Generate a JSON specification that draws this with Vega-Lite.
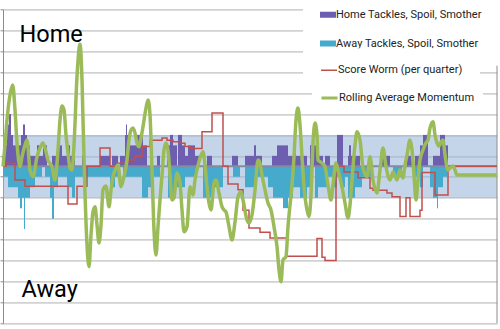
{
  "$schema": "https://vega.github.io/schema/vega-lite/v6.json",
  "width": 494,
  "height": 314,
  "autosize": {"type": "none"},
  "padding": {"left": 3, "top": 9.3, "right": 3, "bottom": 5.7},
  "background": "white",
  "config": {"view": {"stroke": null}, "font": "Roboto"},
  "datasets": {
    "band": [{"s": 0, "e": 494, "lo": -3, "hi": 3}],
    "bars": [
      {"series": "Home Tackles, Spoil, Smother", "s": 0, "e": 4, "v": 2},
      {"series": "Home Tackles, Spoil, Smother", "s": 4, "e": 6, "v": 4},
      {"series": "Home Tackles, Spoil, Smother", "s": 6, "e": 8, "v": 5},
      {"series": "Home Tackles, Spoil, Smother", "s": 8, "e": 10, "v": 3},
      {"series": "Home Tackles, Spoil, Smother", "s": 10, "e": 13, "v": 2},
      {"series": "Home Tackles, Spoil, Smother", "s": 13, "e": 15, "v": 3},
      {"series": "Home Tackles, Spoil, Smother", "s": 15, "e": 18, "v": 2},
      {"series": "Home Tackles, Spoil, Smother", "s": 18, "e": 20, "v": 3},
      {"series": "Home Tackles, Spoil, Smother", "s": 20, "e": 22, "v": 4},
      {"series": "Home Tackles, Spoil, Smother", "s": 22, "e": 24, "v": 3},
      {"series": "Home Tackles, Spoil, Smother", "s": 24, "e": 27, "v": 2},
      {"series": "Home Tackles, Spoil, Smother", "s": 27, "e": 34, "v": 1},
      {"series": "Home Tackles, Spoil, Smother", "s": 34, "e": 36, "v": 2},
      {"series": "Home Tackles, Spoil, Smother", "s": 36, "e": 40, "v": 1},
      {"series": "Home Tackles, Spoil, Smother", "s": 40, "e": 44, "v": 2},
      {"series": "Home Tackles, Spoil, Smother", "s": 49, "e": 55, "v": 1},
      {"series": "Home Tackles, Spoil, Smother", "s": 55, "e": 59, "v": 2},
      {"series": "Home Tackles, Spoil, Smother", "s": 59, "e": 64, "v": 1},
      {"series": "Home Tackles, Spoil, Smother", "s": 64, "e": 67, "v": 2},
      {"series": "Home Tackles, Spoil, Smother", "s": 67, "e": 72, "v": 1},
      {"series": "Home Tackles, Spoil, Smother", "s": 79, "e": 82, "v": 1},
      {"series": "Home Tackles, Spoil, Smother", "s": 97, "e": 107, "v": 1},
      {"series": "Home Tackles, Spoil, Smother", "s": 109, "e": 115, "v": 1},
      {"series": "Home Tackles, Spoil, Smother", "s": 117, "e": 122, "v": 1},
      {"series": "Home Tackles, Spoil, Smother", "s": 122, "e": 123, "v": 3},
      {"series": "Home Tackles, Spoil, Smother", "s": 123, "e": 124, "v": 4},
      {"series": "Home Tackles, Spoil, Smother", "s": 124, "e": 125, "v": 3},
      {"series": "Home Tackles, Spoil, Smother", "s": 125, "e": 134, "v": 2},
      {"series": "Home Tackles, Spoil, Smother", "s": 134, "e": 140, "v": 3},
      {"series": "Home Tackles, Spoil, Smother", "s": 140, "e": 144, "v": 2},
      {"series": "Home Tackles, Spoil, Smother", "s": 154, "e": 157, "v": 1},
      {"series": "Home Tackles, Spoil, Smother", "s": 164, "e": 167, "v": 2},
      {"series": "Home Tackles, Spoil, Smother", "s": 167, "e": 170, "v": 3},
      {"series": "Home Tackles, Spoil, Smother", "s": 170, "e": 174, "v": 2},
      {"series": "Home Tackles, Spoil, Smother", "s": 175, "e": 179, "v": 3},
      {"series": "Home Tackles, Spoil, Smother", "s": 179, "e": 182, "v": 2},
      {"series": "Home Tackles, Spoil, Smother", "s": 182, "e": 185, "v": 1},
      {"series": "Home Tackles, Spoil, Smother", "s": 185, "e": 192, "v": 2},
      {"series": "Home Tackles, Spoil, Smother", "s": 192, "e": 197, "v": 1},
      {"series": "Home Tackles, Spoil, Smother", "s": 204, "e": 209, "v": 1},
      {"series": "Home Tackles, Spoil, Smother", "s": 229, "e": 235, "v": 1},
      {"series": "Home Tackles, Spoil, Smother", "s": 242, "e": 251, "v": 1},
      {"series": "Home Tackles, Spoil, Smother", "s": 251, "e": 253, "v": 2},
      {"series": "Home Tackles, Spoil, Smother", "s": 253, "e": 259, "v": 1},
      {"series": "Home Tackles, Spoil, Smother", "s": 269, "e": 274, "v": 1},
      {"series": "Home Tackles, Spoil, Smother", "s": 274, "e": 285, "v": 2},
      {"series": "Home Tackles, Spoil, Smother", "s": 285, "e": 290, "v": 1},
      {"series": "Home Tackles, Spoil, Smother", "s": 290, "e": 293, "v": 2},
      {"series": "Home Tackles, Spoil, Smother", "s": 293, "e": 304, "v": 1},
      {"series": "Home Tackles, Spoil, Smother", "s": 307, "e": 309, "v": 2},
      {"series": "Home Tackles, Spoil, Smother", "s": 309, "e": 311, "v": 3},
      {"series": "Home Tackles, Spoil, Smother", "s": 311, "e": 314, "v": 2},
      {"series": "Home Tackles, Spoil, Smother", "s": 314, "e": 320, "v": 1},
      {"series": "Home Tackles, Spoil, Smother", "s": 322, "e": 327, "v": 1},
      {"series": "Home Tackles, Spoil, Smother", "s": 334, "e": 340, "v": 3},
      {"series": "Home Tackles, Spoil, Smother", "s": 345, "e": 346, "v": 1},
      {"series": "Home Tackles, Spoil, Smother", "s": 346, "e": 348, "v": 2},
      {"series": "Home Tackles, Spoil, Smother", "s": 348, "e": 357, "v": 1},
      {"series": "Home Tackles, Spoil, Smother", "s": 379, "e": 387, "v": 1},
      {"series": "Home Tackles, Spoil, Smother", "s": 404, "e": 410, "v": 1},
      {"series": "Home Tackles, Spoil, Smother", "s": 412, "e": 417, "v": 1},
      {"series": "Home Tackles, Spoil, Smother", "s": 417, "e": 420, "v": 2},
      {"series": "Home Tackles, Spoil, Smother", "s": 420, "e": 425, "v": 3},
      {"series": "Home Tackles, Spoil, Smother", "s": 430, "e": 437, "v": 1},
      {"series": "Home Tackles, Spoil, Smother", "s": 437, "e": 442, "v": 3},
      {"series": "Home Tackles, Spoil, Smother", "s": 442, "e": 445, "v": 2},
      {"series": "Away Tackles, Spoil, Smother", "s": 0, "e": 5, "v": -1},
      {"series": "Away Tackles, Spoil, Smother", "s": 5, "e": 15, "v": -2},
      {"series": "Away Tackles, Spoil, Smother", "s": 15, "e": 17, "v": -3},
      {"series": "Away Tackles, Spoil, Smother", "s": 17, "e": 19, "v": -4},
      {"series": "Away Tackles, Spoil, Smother", "s": 19, "e": 21, "v": -3},
      {"series": "Away Tackles, Spoil, Smother", "s": 21, "e": 22, "v": -6},
      {"series": "Away Tackles, Spoil, Smother", "s": 22, "e": 27, "v": -3},
      {"series": "Away Tackles, Spoil, Smother", "s": 27, "e": 32, "v": -2},
      {"series": "Away Tackles, Spoil, Smother", "s": 32, "e": 39, "v": -1},
      {"series": "Away Tackles, Spoil, Smother", "s": 42, "e": 47, "v": -1},
      {"series": "Away Tackles, Spoil, Smother", "s": 47, "e": 49, "v": -3},
      {"series": "Away Tackles, Spoil, Smother", "s": 49, "e": 51, "v": -5},
      {"series": "Away Tackles, Spoil, Smother", "s": 51, "e": 55, "v": -2},
      {"series": "Away Tackles, Spoil, Smother", "s": 55, "e": 64, "v": -1},
      {"series": "Away Tackles, Spoil, Smother", "s": 64, "e": 69, "v": -2},
      {"series": "Away Tackles, Spoil, Smother", "s": 69, "e": 72, "v": -3},
      {"series": "Away Tackles, Spoil, Smother", "s": 72, "e": 80, "v": -1},
      {"series": "Away Tackles, Spoil, Smother", "s": 80, "e": 84, "v": -2},
      {"series": "Away Tackles, Spoil, Smother", "s": 84, "e": 107, "v": -1},
      {"series": "Away Tackles, Spoil, Smother", "s": 107, "e": 112, "v": -2},
      {"series": "Away Tackles, Spoil, Smother", "s": 112, "e": 117, "v": -1},
      {"series": "Away Tackles, Spoil, Smother", "s": 120, "e": 139, "v": -1},
      {"series": "Away Tackles, Spoil, Smother", "s": 139, "e": 145, "v": -3},
      {"series": "Away Tackles, Spoil, Smother", "s": 145, "e": 150, "v": -2},
      {"series": "Away Tackles, Spoil, Smother", "s": 150, "e": 157, "v": -1},
      {"series": "Away Tackles, Spoil, Smother", "s": 165, "e": 172, "v": -3},
      {"series": "Away Tackles, Spoil, Smother", "s": 172, "e": 182, "v": -2},
      {"series": "Away Tackles, Spoil, Smother", "s": 182, "e": 194, "v": -1},
      {"series": "Away Tackles, Spoil, Smother", "s": 200, "e": 210, "v": -3},
      {"series": "Away Tackles, Spoil, Smother", "s": 210, "e": 220, "v": -2},
      {"series": "Away Tackles, Spoil, Smother", "s": 230, "e": 237, "v": -1},
      {"series": "Away Tackles, Spoil, Smother", "s": 242, "e": 252, "v": -2},
      {"series": "Away Tackles, Spoil, Smother", "s": 252, "e": 265, "v": -1},
      {"series": "Away Tackles, Spoil, Smother", "s": 265, "e": 270, "v": -2},
      {"series": "Away Tackles, Spoil, Smother", "s": 270, "e": 280, "v": -3},
      {"series": "Away Tackles, Spoil, Smother", "s": 280, "e": 285, "v": -4},
      {"series": "Away Tackles, Spoil, Smother", "s": 285, "e": 290, "v": -3},
      {"series": "Away Tackles, Spoil, Smother", "s": 290, "e": 297, "v": -2},
      {"series": "Away Tackles, Spoil, Smother", "s": 297, "e": 304, "v": -3},
      {"series": "Away Tackles, Spoil, Smother", "s": 304, "e": 309, "v": -2},
      {"series": "Away Tackles, Spoil, Smother", "s": 312, "e": 315, "v": -3},
      {"series": "Away Tackles, Spoil, Smother", "s": 315, "e": 324, "v": -2},
      {"series": "Away Tackles, Spoil, Smother", "s": 324, "e": 330, "v": -1},
      {"series": "Away Tackles, Spoil, Smother", "s": 330, "e": 334, "v": -2},
      {"series": "Away Tackles, Spoil, Smother", "s": 334, "e": 337, "v": -1},
      {"series": "Away Tackles, Spoil, Smother", "s": 337, "e": 342, "v": -2},
      {"series": "Away Tackles, Spoil, Smother", "s": 342, "e": 345, "v": -1},
      {"series": "Away Tackles, Spoil, Smother", "s": 345, "e": 352, "v": -3},
      {"series": "Away Tackles, Spoil, Smother", "s": 352, "e": 359, "v": -2},
      {"series": "Away Tackles, Spoil, Smother", "s": 359, "e": 370, "v": -1},
      {"series": "Away Tackles, Spoil, Smother", "s": 390, "e": 399, "v": -1},
      {"series": "Away Tackles, Spoil, Smother", "s": 412, "e": 417, "v": -1},
      {"series": "Away Tackles, Spoil, Smother", "s": 417, "e": 420, "v": -2},
      {"series": "Away Tackles, Spoil, Smother", "s": 427, "e": 430, "v": -2},
      {"series": "Away Tackles, Spoil, Smother", "s": 430, "e": 434, "v": -3},
      {"series": "Away Tackles, Spoil, Smother", "s": 434, "e": 435, "v": -4},
      {"series": "Away Tackles, Spoil, Smother", "s": 435, "e": 440, "v": -2},
      {"series": "Away Tackles, Spoil, Smother", "s": 440, "e": 444, "v": -1}
    ],
    "worm": [
      {"t": 0, "v": 0}, {"t": 3, "v": 0.3}, {"t": 12, "v": -1.3}, {"t": 22, "v": -1.9},
      {"t": 65, "v": -3.6}, {"t": 74, "v": -1.9}, {"t": 84, "v": 0}, {"t": 97, "v": 1.75},
      {"t": 107, "v": 0}, {"t": 115, "v": 0.3}, {"t": 125, "v": 0.6}, {"t": 132, "v": 0.95},
      {"t": 139, "v": 1.9}, {"t": 147, "v": 2.5}, {"t": 159, "v": 2.7}, {"t": 164, "v": 2.5},
      {"t": 170, "v": 2.35}, {"t": 177, "v": 2.2}, {"t": 182, "v": 1.9}, {"t": 187, "v": 1.7},
      {"t": 199, "v": 3.3}, {"t": 209, "v": 5.1}, {"t": 220, "v": 0}, {"t": 225, "v": -1.7},
      {"t": 235, "v": -2.25}, {"t": 240, "v": -4.2}, {"t": 246, "v": -5.9}, {"t": 257, "v": -6.3},
      {"t": 267, "v": -6.85}, {"t": 284, "v": -8.6}, {"t": 314, "v": -6.9}, {"t": 319, "v": -8.7},
      {"t": 322, "v": -9.0}, {"t": 333, "v": 0}, {"t": 341, "v": -0.55}, {"t": 355, "v": -1.1},
      {"t": 367, "v": -2.1}, {"t": 370, "v": -2.3}, {"t": 384, "v": -2.55}, {"t": 389, "v": -2.9},
      {"t": 397, "v": -4.8}, {"t": 403, "v": -3.0}, {"t": 407, "v": -4.8}, {"t": 417, "v": -4.2},
      {"t": 419, "v": -0.6}, {"t": 432, "v": -2.75}, {"t": 445, "v": 0}, {"t": 494, "v": 0}
    ],
    "momentum": [
      {"t": 0, "v": 0}, {"t": 2, "v": 2.03}, {"t": 4, "v": 4.42}, {"t": 7, "v": 6.81}, {"t": 9.7, "v": 7.76},
      {"t": 12, "v": 5.38}, {"t": 14, "v": 2.23}, {"t": 17, "v": -0.04}, {"t": 19, "v": 0.89}, {"t": 22, "v": 2.03},
      {"t": 24, "v": 2.51}, {"t": 27, "v": -0.35}, {"t": 30, "v": -0.99}, {"t": 34, "v": 0.89}, {"t": 37, "v": 1.75},
      {"t": 40, "v": 2.23}, {"t": 42, "v": 1.75}, {"t": 45, "v": 0.6}, {"t": 49, "v": -0.04}, {"t": 52, "v": -1.31},
      {"t": 55, "v": 1.56}, {"t": 57, "v": 4.42}, {"t": 59, "v": 5.76}, {"t": 61, "v": 5.38}, {"t": 63, "v": 2.99},
      {"t": 65, "v": 1.27}, {"t": 67, "v": -0.16}, {"t": 69, "v": -0.35}, {"t": 71, "v": 2.03}, {"t": 74, "v": 8.56},
      {"t": 77, "v": 11.65}, {"t": 79, "v": 8.24}, {"t": 80.5, "v": 2.51}, {"t": 82, "v": -2.55}, {"t": 84, "v": -7.52},
      {"t": 86, "v": -9.59}, {"t": 88, "v": -6.56}, {"t": 90, "v": -4.36}, {"t": 92, "v": -3.86}, {"t": 94, "v": -5.6},
      {"t": 96, "v": -7.33}, {"t": 98, "v": -5.6}, {"t": 100, "v": -2.26}, {"t": 103, "v": -1.88}, {"t": 106, "v": -3.86},
      {"t": 108, "v": -2.26}, {"t": 110, "v": -0.99}, {"t": 113, "v": -0.16}, {"t": 115, "v": 0.12}, {"t": 118, "v": -1.95},
      {"t": 121, "v": -0.99}, {"t": 124, "v": 0.6}, {"t": 126, "v": 2.51}, {"t": 128, "v": 3.47}, {"t": 130, "v": 3.66},
      {"t": 132, "v": 3.18}, {"t": 134, "v": 2.23}, {"t": 136, "v": 1.87}, {"t": 138, "v": 2.7}, {"t": 140, "v": 3.78},
      {"t": 143, "v": 5.57}, {"t": 145, "v": 6.33}, {"t": 147, "v": 4.9}, {"t": 149, "v": -0.35}, {"t": 151, "v": -6.08},
      {"t": 153, "v": -8.47}, {"t": 155, "v": -5.77}, {"t": 157, "v": -3.22}, {"t": 159, "v": -0.83}, {"t": 161, "v": 1.56},
      {"t": 163, "v": 2.23}, {"t": 165, "v": 1.56}, {"t": 167, "v": -0.83}, {"t": 169, "v": -3.22}, {"t": 171, "v": -3.03},
      {"t": 174, "v": -0.64}, {"t": 177, "v": -1.6}, {"t": 179, "v": -4.17}, {"t": 181, "v": -6.25}, {"t": 184, "v": -5.77},
      {"t": 187, "v": -1.95}, {"t": 190, "v": -2.74}, {"t": 192, "v": -1.31}, {"t": 194, "v": -0.35}, {"t": 197, "v": 0.79},
      {"t": 200, "v": 1.39}, {"t": 202, "v": 0.12}, {"t": 204, "v": -1.95}, {"t": 206, "v": -3.51}, {"t": 208, "v": -4.17},
      {"t": 211, "v": -1.6}, {"t": 213, "v": -1.31}, {"t": 216, "v": -2.55}, {"t": 219, "v": -3.86}, {"t": 221, "v": -4.17},
      {"t": 223, "v": -4.36}, {"t": 226, "v": -5.77}, {"t": 229, "v": -7.04}, {"t": 232, "v": -5.32}, {"t": 235, "v": -2.9},
      {"t": 238, "v": -2.43}, {"t": 240, "v": -3.22}, {"t": 244, "v": -5.13}, {"t": 246, "v": -5.42}, {"t": 249, "v": -4.65},
      {"t": 252, "v": -2.26}, {"t": 255, "v": 0.6}, {"t": 257, "v": 0.32}, {"t": 259, "v": -0.83}, {"t": 262, "v": -2.26},
      {"t": 265, "v": -3.51}, {"t": 268, "v": -4.17}, {"t": 271, "v": -5.77}, {"t": 274, "v": -7.68}, {"t": 276, "v": -9.87},
      {"t": 278, "v": -11.02}, {"t": 280, "v": -8.95}, {"t": 283, "v": -8.63}, {"t": 285, "v": -5.77}, {"t": 287, "v": -3.7},
      {"t": 289, "v": -1.79}, {"t": 291, "v": 0.92}, {"t": 293, "v": 4.42}, {"t": 295, "v": 5.57}, {"t": 297, "v": 3.94},
      {"t": 299, "v": 0.92}, {"t": 301, "v": -1.95}, {"t": 304, "v": -4.17}, {"t": 306, "v": -4.81}, {"t": 308, "v": -2.74},
      {"t": 310, "v": 2.23}, {"t": 312, "v": 4.14}, {"t": 314, "v": 2.99}, {"t": 315, "v": 0.6}, {"t": 319, "v": 0.32},
      {"t": 322, "v": -0.04}, {"t": 325, "v": -1.79}, {"t": 328, "v": -3.22}, {"t": 330, "v": -1.79}, {"t": 333, "v": 0.32},
      {"t": 335, "v": -0.35}, {"t": 339, "v": -1.95}, {"t": 342, "v": -3.51}, {"t": 345, "v": -4.94}, {"t": 347, "v": -3.7},
      {"t": 349, "v": -1.31}, {"t": 352, "v": 2.03}, {"t": 354, "v": 3.3}, {"t": 357, "v": 2.51}, {"t": 360, "v": -0.16},
      {"t": 364, "v": -0.99}, {"t": 367, "v": 0.92}, {"t": 370, "v": -1.31}, {"t": 374, "v": -2.55}, {"t": 377, "v": -0.35},
      {"t": 380, "v": 1.75}, {"t": 383, "v": -0.04}, {"t": 387, "v": -1.31}, {"t": 390, "v": -0.54}, {"t": 394, "v": -1.31},
      {"t": 397, "v": -0.35}, {"t": 400, "v": -1.12}, {"t": 402, "v": 0.12}, {"t": 404, "v": 1.08}, {"t": 407, "v": 2.51},
      {"t": 409, "v": 1.56}, {"t": 411, "v": -0.83}, {"t": 413, "v": -3.22}, {"t": 415, "v": -1.31}, {"t": 417, "v": 0.6},
      {"t": 420, "v": 1.56}, {"t": 423, "v": 2.23}, {"t": 425, "v": 2.51}, {"t": 427, "v": 3.66}, {"t": 430, "v": 4.26},
      {"t": 432, "v": 2.99}, {"t": 434, "v": 2.23}, {"t": 436, "v": 1.94}, {"t": 438, "v": 2.32}, {"t": 440, "v": 2.51},
      {"t": 442, "v": 1.08}, {"t": 445, "v": -0.35}, {"t": 447, "v": -0.16}, {"t": 450, "v": 0.03}, {"t": 452, "v": -0.35},
      {"t": 454, "v": -0.83}, {"t": 494, "v": -0.83}
    ],
    "labels": [
      {"label": "Home", "t": 16.5, "v": 11.9},
      {"label": "Away", "t": 18.5, "v": -12.45}
    ],
    "edges": [{"t": 494, "v": 0}]
  },
  "layer": [
    {
      "data": {"name": "band"},
      "mark": {"type": "rect", "color": "#95B3D7", "opacity": 0.55},
      "encoding": {
        "x": {"field": "s", "type": "quantitative", "scale": {"domain": [0, 494], "nice": false, "zero": false}, "axis": null},
        "x2": {"field": "e"},
        "y": {"field": "lo", "type": "quantitative", "scale": {"domain": [-15, 15], "nice": false, "zero": false},
          "axis": {"orient": "left", "values": [-15,-14,-13,-12,-11,-10,-9,-8,-7,-6,-5,-4,-3,-2,-1,0,1,2,3,4,5,6,7,8,9,10,11,12,13,14,15],
            "tickCount": 30, "labelOverlap": false, "labelBound": false,
            "grid": true, "gridColor": "#D2D2D2", "gridWidth": 1.7, "labels": false, "ticks": true, "tickSize": 3,
            "tickColor": "#8C8C8C", "domain": true, "domainColor": "#8C8C8C", "title": null}},
        "y2": {"field": "hi"}
      }
    },
    {
      "data": {"name": "bars"},
      "mark": {"type": "rect"},
      "encoding": {
        "x": {"field": "s", "type": "quantitative"},
        "x2": {"field": "e"},
        "y": {"field": "v", "type": "quantitative"},
        "y2": {"datum": 0},
        "fill": {"field": "series", "type": "nominal",
          "scale": {"domain": ["Home Tackles, Spoil, Smother", "Away Tackles, Spoil, Smother"], "range": ["#6E5EB0", "#46AACD"]},
          "legend": {"orient": "none", "legendX": 300, "legendY": -16.6, "title": null, "fillColor": "white", "padding": 17,
            "rowPadding": 17.8, "clipHeight": 10, "symbolSize": 256, "symbolType": "M-1,-0.375H1V0.375H-1Z", "symbolStrokeWidth": 0,
            "labelFont": "Roboto", "labelFontSize": 11, "labelColor": "#222222", "labelOffset": 0, "labelLimit": 300}
        }
      }
    },
    {
      "data": {"name": "edges"},
      "mark": {"type": "rule", "color": "#7F8CA6", "strokeWidth": 2},
      "encoding": {
        "y": {"field": "v", "type": "quantitative"}
      }
    },
    {
      "data": {"name": "edges"},
      "mark": {"type": "rule", "color": "#8C8C8C", "strokeWidth": 1},
      "encoding": {
        "x": {"field": "t", "type": "quantitative"}
      }
    },
    {
      "data": {"name": "worm"},
      "transform": [{"calculate": "'Score Worm (per quarter)'", "as": "series"}],
      "mark": {"type": "line", "interpolate": "step-after", "strokeWidth": 1.5},
      "encoding": {
        "x": {"field": "t", "type": "quantitative"},
        "y": {"field": "v", "type": "quantitative"},
        "stroke": {"field": "series", "type": "nominal",
          "scale": {"domain": ["Score Worm (per quarter)"], "range": ["#C0504D"]},
          "legend": {"orient": "none", "legendX": 300, "legendY": 39, "title": null, "fillColor": "white", "padding": 17,
            "clipHeight": 10, "symbolSize": 256, "symbolType": "stroke", "symbolStrokeWidth": 1.5,
            "labelFont": "Roboto", "labelFontSize": 11, "labelColor": "#222222", "labelOffset": 0, "labelLimit": 300}
        }
      }
    },
    {
      "data": {"name": "momentum"},
      "transform": [{"calculate": "'Rolling Average Momentum'", "as": "series"}],
      "mark": {"type": "line", "interpolate": "monotone", "strokeWidth": 3.5},
      "encoding": {
        "x": {"field": "t", "type": "quantitative"},
        "y": {"field": "v", "type": "quantitative"},
        "color": {"field": "series", "type": "nominal",
          "scale": {"domain": ["Rolling Average Momentum"], "range": ["#9BBB59"]},
          "legend": {"orient": "none", "legendX": 309, "legendY": 75.7, "title": null, "fillColor": "white", "padding": 8,
            "clipHeight": 10, "symbolSize": 256, "symbolType": "stroke", "symbolStrokeWidth": 3,
            "labelFont": "Roboto", "labelFontSize": 11, "labelColor": "#222222", "labelOffset": 0, "labelLimit": 300}
        }
      }
    },
    {
      "data": {"name": "labels"},
      "mark": {"type": "text", "align": "left", "baseline": "alphabetic", "font": "Roboto", "fontSize": 23.5, "color": "#000000"},
      "encoding": {
        "x": {"field": "t", "type": "quantitative"},
        "y": {"field": "v", "type": "quantitative"},
        "text": {"field": "label"}
      }
    }
  ]
}
